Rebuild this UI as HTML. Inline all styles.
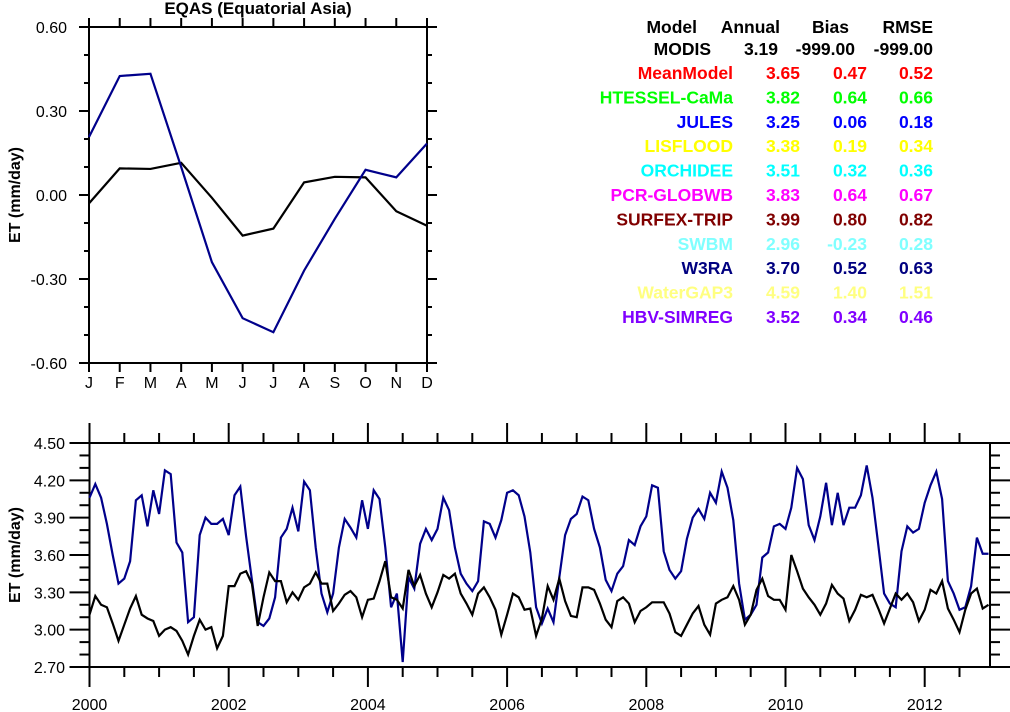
<!DOCTYPE html>
<html><head><meta charset="utf-8"><style>
body{margin:0;background:#fff;}
svg{display:block;font-family:"Liberation Sans",Arial,sans-serif;}
</style></head><body>
<svg id="root" width="1010" height="712" viewBox="0 0 1010 712"></svg>
<script>
// ---- data ----
const months = ["J","F","M","A","M","J","J","A","S","O","N","D"];
const climBlue = [0.207,0.425,0.433,0.10,-0.24,-0.44,-0.49,-0.27,-0.085,0.09,0.063,0.184];
const climBlack = [-0.03,0.095,0.093,0.115,-0.01,-0.145,-0.12,0.045,0.065,0.063,-0.058,-0.11];
const climTicks = [0.60,0.30,0.00,-0.30,-0.60];
const tsBlue = [
4.06,4.17,4.06,3.85,3.60,3.37,3.41,3.55,4.04,4.08,3.83,4.12,
3.93,4.28,4.25,3.70,3.62,3.06,3.10,3.76,3.90,3.85,3.85,3.89,
3.76,4.08,4.15,3.75,3.40,3.06,3.03,3.09,3.26,3.74,3.81,3.98,
3.79,4.19,4.12,3.66,3.29,3.14,3.29,3.66,3.89,3.82,3.74,4.04,
3.81,4.12,4.05,3.66,3.18,3.29,2.74,3.42,3.33,3.69,3.81,3.72,
3.81,4.06,3.96,3.66,3.45,3.37,3.31,3.39,3.87,3.85,3.74,3.88,
4.10,4.12,4.08,3.91,3.62,3.18,3.05,3.17,3.06,3.42,3.76,3.89,
3.93,4.07,4.04,3.81,3.66,3.40,3.31,3.45,3.51,3.72,3.68,3.83,
3.91,4.16,4.14,3.63,3.48,3.41,3.47,3.73,3.90,3.97,3.89,4.10,
4.02,4.27,4.14,3.88,3.37,3.08,3.12,3.20,3.58,3.62,3.83,3.85,
3.81,3.98,4.30,4.21,3.84,3.72,3.91,4.18,3.84,4.10,3.84,3.98,
3.98,4.08,4.32,4.06,3.68,3.29,3.21,3.18,3.63,3.83,3.78,3.81,
4.02,4.16,4.27,4.05,3.39,3.29,3.16,3.18,3.35,3.74,3.61,3.61];
const tsBlack = [
3.12,3.27,3.20,3.18,3.05,2.91,3.04,3.17,3.27,3.12,3.09,3.07,
2.95,3.00,3.02,2.99,2.91,2.80,2.95,3.08,3.00,3.02,2.85,2.95,
3.35,3.35,3.45,3.47,3.37,3.03,3.26,3.46,3.39,3.39,3.22,3.30,
3.24,3.34,3.37,3.46,3.37,3.37,3.15,3.21,3.28,3.31,3.26,3.10,
3.24,3.25,3.39,3.55,3.26,3.24,3.17,3.48,3.35,3.44,3.29,3.18,
3.30,3.44,3.41,3.45,3.29,3.21,3.12,3.29,3.34,3.26,3.16,2.96,
3.12,3.29,3.26,3.16,3.17,2.95,3.09,3.35,3.24,3.41,3.23,3.11,
3.10,3.34,3.34,3.32,3.21,3.08,3.02,3.23,3.26,3.21,3.06,3.15,
3.18,3.22,3.22,3.22,3.13,2.98,2.95,3.04,3.13,3.19,3.04,2.96,
3.21,3.24,3.26,3.35,3.24,3.04,3.12,3.32,3.41,3.27,3.24,3.24,
3.16,3.60,3.47,3.33,3.26,3.20,3.12,3.21,3.36,3.29,3.25,3.07,
3.16,3.28,3.26,3.28,3.17,3.05,3.17,3.29,3.24,3.29,3.22,3.07,
3.16,3.32,3.29,3.39,3.17,3.08,2.98,3.16,3.29,3.33,3.17,3.20];
const tsTicks = [4.50,4.20,3.90,3.60,3.30,3.00,2.70];
const yearLabels = [2000,2002,2004,2006,2008,2010,2012];
const tableHeader = ["Model","Annual","Bias","RMSE"];
const tableNames = ["MODIS","MeanModel","HTESSEL-CaMa","JULES","LISFLOOD","ORCHIDEE","PCR-GLOBWB","SURFEX-TRIP","SWBM","W3RA","WaterGAP3","HBV-SIMREG"];
const tableAnnual = ["3.19","3.65","3.82","3.25","3.38","3.51","3.83","3.99","2.96","3.70","4.59","3.52"];
const tableBias = ["-999.00","0.47","0.64","0.06","0.19","0.32","0.64","0.80","-0.23","0.52","1.40","0.34"];
const tableRmse = ["-999.00","0.52","0.66","0.18","0.34","0.36","0.67","0.82","0.28","0.63","1.51","0.46"];
const tableColors = ["#000","#ff0000","#00ff00","#0000ff","#ffff00","#00ffff","#ff00ff","#800000","#80ffff","#000080","#ffff80","#8000ff"];

const NS="http://www.w3.org/2000/svg";
const root=document.getElementById('root');
function mk(tag,attrs,parent,text){const e=document.createElementNS(NS,tag);for(const k in attrs)e.setAttribute(k,attrs[k]);if(text!==undefined)e.textContent=text;(parent||root).appendChild(e);return e;}

// ---- top chart ----
const T={l:89,r:427,t:27,b:363};
const tx=i=>T.l+i*(T.r-T.l)/11;
const ty=v=>T.t+(0.6-v)*(T.b-T.t)/1.2;
const gTop=mk('g',{});


let t=mk('text',{x:258,y:14,'text-anchor':'middle','font-size':17,'font-weight':'bold'},gTop,'EQAS (Equatorial Asia)');

for(let k=0;k<=12;k++){const v=0.6-k*0.1;const y=ty(v);const major=k%3===0;
 mk('line',{x1:T.l-(major?10:5),x2:T.l,y1:y,y2:y,stroke:'#000','stroke-width':2},gTop);
 mk('line',{x1:T.r,x2:T.r+(major?10:5),y1:y,y2:y,stroke:'#000','stroke-width':2},gTop);}
climTicks.forEach(v=>{const e=mk('text',{x:67,y:ty(v)+6,'text-anchor':'end','font-size':16},gTop,v.toFixed(2));
 });
months.forEach((m,i)=>{const x=tx(i);
 mk('line',{x1:x,x2:x,y1:T.b,y2:T.b+9,stroke:'#000','stroke-width':2},gTop);
 mk('line',{x1:x,x2:x,y1:T.t-9,y2:T.t,stroke:'#000','stroke-width':2},gTop);
 const e=mk('text',{x:x,y:388,'text-anchor':'middle','font-size':16},gTop,m);
 });
mk('rect',{x:T.l,y:T.t,width:T.r-T.l,height:T.b-T.t,fill:'none',stroke:'#000','stroke-width':2},gTop);
t=mk('text',{transform:'translate(20,'+ty(0)+') rotate(-90)','text-anchor':'middle','font-size':16,'font-weight':'bold'},gTop,'ET (mm/day)');

let p=mk('polyline',{points:climBlack.map((v,i)=>tx(i)+','+ty(v)).join(' '),fill:'none',stroke:'#000','stroke-width':2.2},gTop);

p=mk('polyline',{points:climBlue.map((v,i)=>tx(i)+','+ty(v)).join(' '),fill:'none',stroke:'#00008b','stroke-width':2.2},gTop);


// ---- table ----
const gTab=mk('g',{'font-size':17.5,'font-weight':'bold'});


const hx=[697,780,849,933];
tableHeader.forEach((h,i)=>{const e=mk('text',{x:hx[i],y:33,'text-anchor':'end'},gTab,h);
 });
tableNames.forEach((n,r)=>{const y=r===0?55:79+(r-1)*24.4;const c=tableColors[r];
 const xs=r===0?[711,778,855,933]:[733,800,867,933];
 [n,tableAnnual[r],tableBias[r],tableRmse[r]].forEach((s,j)=>{const e=mk('text',{x:xs[j],y:y,'text-anchor':'end',fill:c},gTab,s);
  });});

// ---- bottom chart ----
const B={l:89.5,r:990,t:443,b:667};
const perMonth=5.8;
const bx=i=>B.l+i*perMonth;
const by=v=>B.t+(4.5-v)*(B.b-B.t)/1.8;
const gBot=mk('g',{});


for(let k=0;k<=18;k++){const v=4.5-k*0.1;const y=by(v);const major=k%3===0;
 mk('line',{x1:B.l-(major?20:10),x2:B.l,y1:y,y2:y,stroke:'#000','stroke-width':2},gBot);
 mk('line',{x1:B.r,x2:B.r+(major?20:10),y1:y,y2:y,stroke:'#000','stroke-width':2},gBot);}
tsTicks.forEach(v=>{const e=mk('text',{x:65,y:by(v)+6,'text-anchor':'end','font-size':16},gBot,v.toFixed(2));
 });
for(let h=0;h<=26;h++){const x=bx(h*6);if(x>B.r+1)break;const major=h%4===0;
 mk('line',{x1:x,x2:x,y1:B.b,y2:B.b+(major?20:10),stroke:'#000','stroke-width':2},gBot);
 mk('line',{x1:x,x2:x,y1:B.t-(major?20:10),y2:B.t,stroke:'#000','stroke-width':2},gBot);}
yearLabels.forEach(yv=>{const e=mk('text',{x:bx((yv-2000)*12),y:710,'text-anchor':'middle','font-size':16},gBot,String(yv));
 });
mk('rect',{x:B.l,y:B.t,width:B.r-B.l,height:B.b-B.t,fill:'none',stroke:'#000','stroke-width':2},gBot);
t=mk('text',{transform:'translate(20,555) rotate(-90)','text-anchor':'middle','font-size':16,'font-weight':'bold'},gBot,'ET (mm/day)');

p=mk('polyline',{points:tsBlue.map((v,i)=>bx(i)+','+by(v)).join(' '),fill:'none',stroke:'#00008b','stroke-width':2.2},gBot);

p=mk('polyline',{points:tsBlack.map((v,i)=>bx(i)+','+by(v)).join(' '),fill:'none',stroke:'#000','stroke-width':2.2},gBot);

</script>
</body></html>
